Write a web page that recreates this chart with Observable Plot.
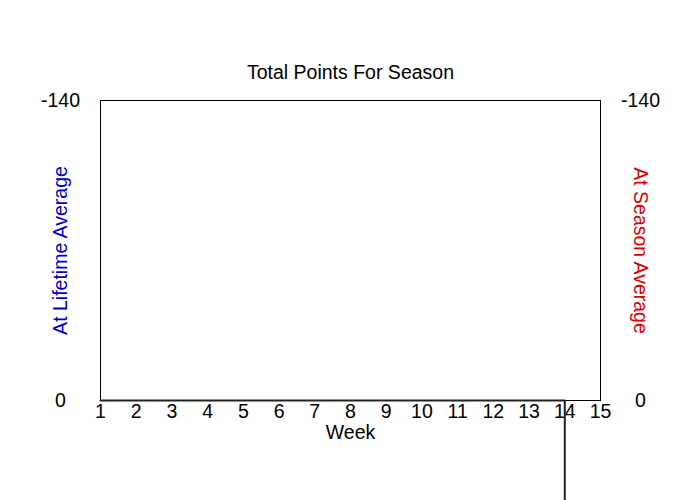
<!DOCTYPE html>
<html>
<head>
<meta charset="utf-8">
<script src="https://cdn.jsdelivr.net/npm/d3@7"></script>
<script src="https://cdn.jsdelivr.net/npm/@observablehq/plot@0.6"></script>
<style>
  html, body { margin: 0; padding: 0; background: #fff; }
  #chart svg { display: block; }
</style>
</head>
<body>
<div id="chart"></div>
<script>
const weeks = [1, 2, 3, 4, 5, 6, 7, 8, 9, 10, 11, 12, 13, 14, 14];
const points = [0, 0, 0, 0, 0, 0, 0, 0, 0, 0, 0, 0, 0, 0, 140];
const weekTicks = [1, 2, 3, 4, 5, 6, 7, 8, 9, 10, 11, 12, 13, 14, 15];
const yTicks = [-140, 0];
const title = "Total Points For Season";
const xLabel = "Week";
const leftLabel = "At Lifetime Average";
const rightLabel = "At Season Average";

const data = weeks.map((w, i) => ({week: w, value: points[i]}));
const font = "'Liberation Sans', Arial, sans-serif";
const fs = 19.5;

const chart = Plot.plot({
  width: 700,
  height: 500,
  marginTop: 100,
  marginBottom: 100,
  marginLeft: 100,
  marginRight: 100,
  style: {fontFamily: font, fontSize: fs + "px", background: "#fff", color: "#000"},
  x: {domain: [1, 15]},
  y: {domain: [-140, 0], reverse: true},
  marks: [
    Plot.frame({stroke: "#000", strokeWidth: 1}),
    Plot.axisX({ticks: weekTicks, tickSize: 0, tickPadding: 4, label: null, fontSize: fs, tickFormat: d => String(d)}),
    Plot.axisY({anchor: "left", ticks: yTicks, tickSize: 0, tickPadding: 40, textAnchor: "middle", label: null, fontSize: fs, tickFormat: d => String(d)}),
    Plot.axisY({anchor: "right", ticks: yTicks, tickSize: 0, tickPadding: 40, textAnchor: "middle", label: null, fontSize: fs, tickFormat: d => String(d)}),
    Plot.line(data, {x: "week", y: "value", stroke: "#222", strokeWidth: 2, clip: false}),
    Plot.text([title], {frameAnchor: "top", lineAnchor: "middle", dy: -28, text: d => d, fontSize: fs, fill: "#000"}),
    Plot.text([xLabel], {frameAnchor: "bottom", lineAnchor: "middle", dy: 32, text: d => d, fontSize: fs, fill: "#000"}),
    Plot.text([leftLabel], {frameAnchor: "left", textAnchor: "middle", lineAnchor: "middle", dx: -40, rotate: -90, text: d => d, fontSize: fs, fill: "#0000cc"}),
    Plot.text([rightLabel], {frameAnchor: "right", textAnchor: "middle", lineAnchor: "middle", dx: 40, rotate: 90, text: d => d, fontSize: fs, fill: "#dd0000"})
  ]
});
document.getElementById("chart").appendChild(chart);
</script>
</body>
</html>
